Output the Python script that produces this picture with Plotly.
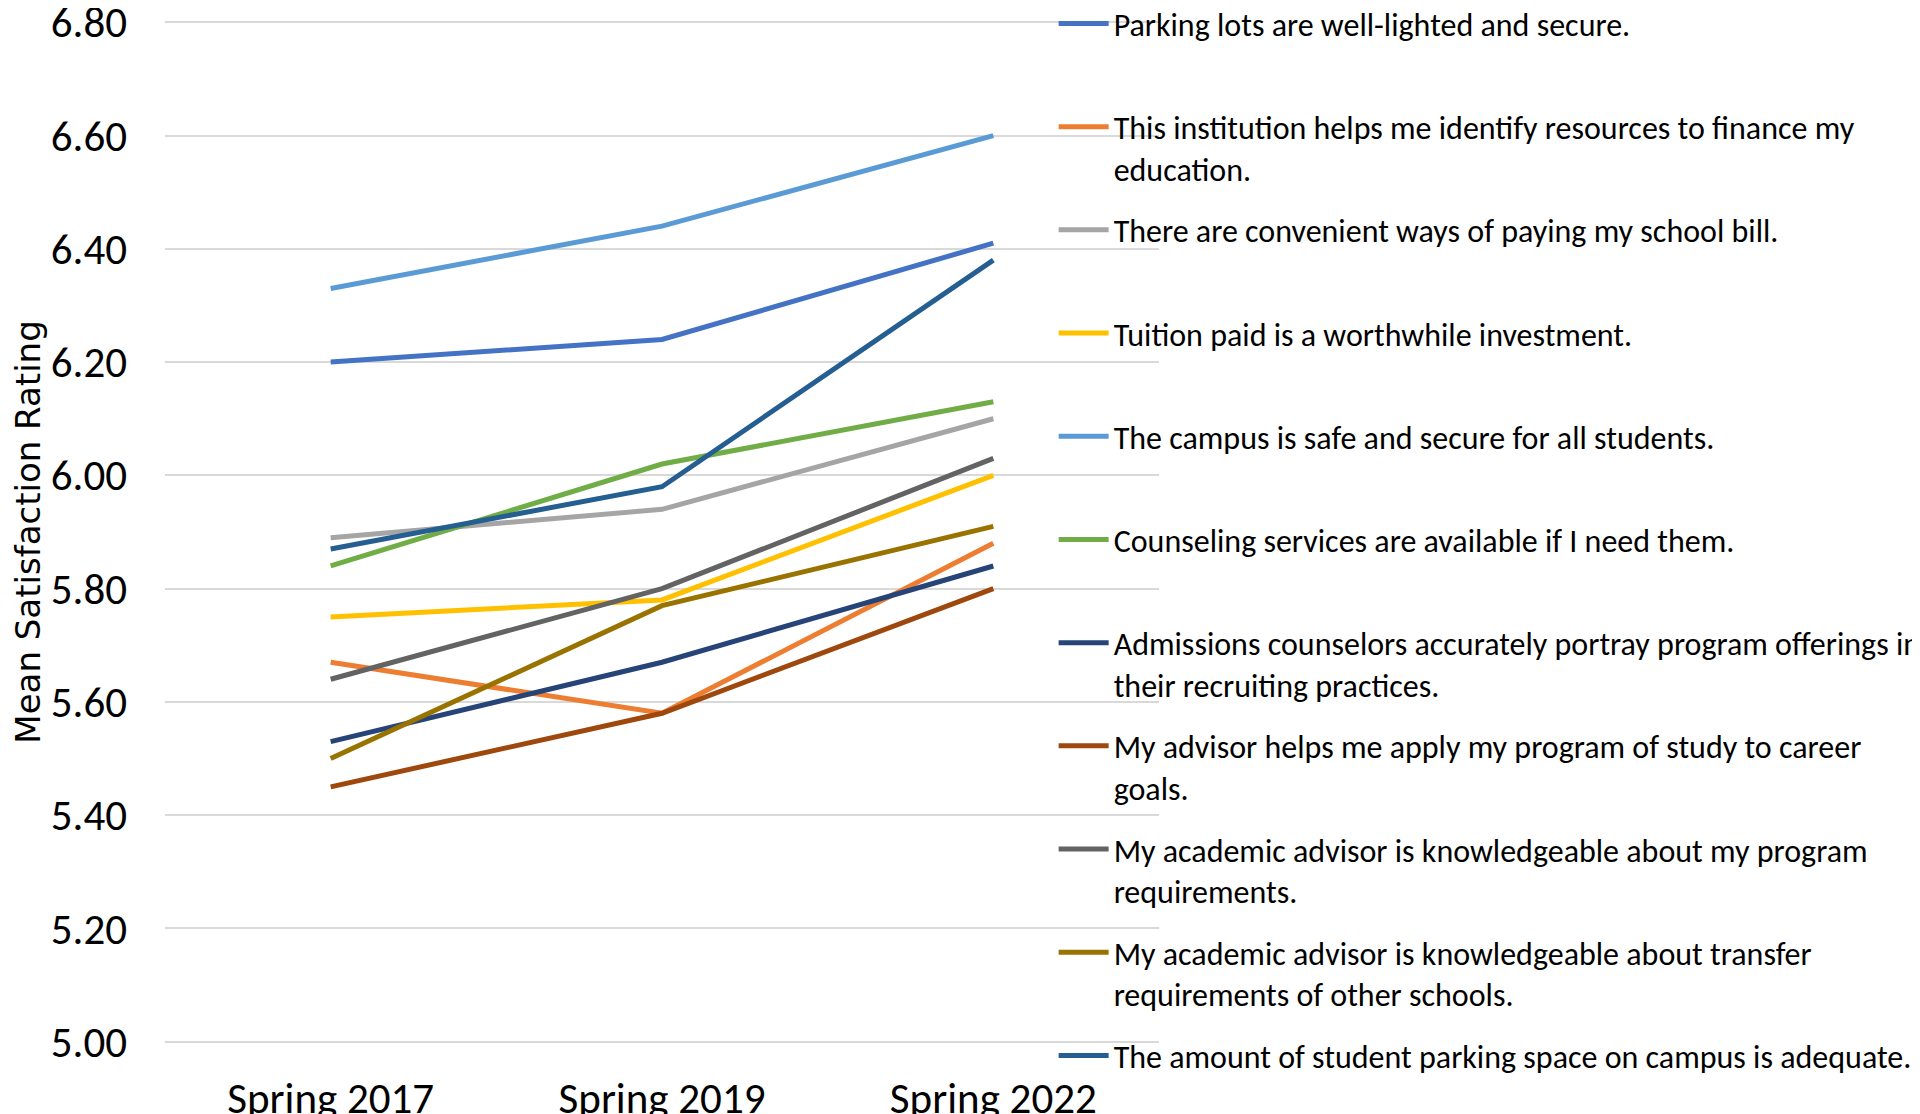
import plotly.graph_objects as go

periods = ["Spring 2017", "Spring 2019", "Spring 2022"]

parking_lots = [6.20, 6.24, 6.41]
finance_help = [5.67, 5.58, 5.88]
paying_bill = [5.89, 5.94, 6.10]
tuition_worth = [5.75, 5.78, 6.00]
campus_safe = [6.33, 6.44, 6.60]
counseling = [5.84, 6.02, 6.13]
admissions = [5.53, 5.67, 5.84]
advisor_career = [5.45, 5.58, 5.80]
advisor_program = [5.64, 5.80, 6.03]
advisor_transfer = [5.50, 5.77, 5.91]
parking_space = [5.87, 5.98, 6.38]

# legend text, wrapped the way the original legend wraps
labels = [
    "Parking lots are well-lighted and secure.",
    "This institution helps me identify resources to finance my<br>education.",
    "There are convenient ways of paying my school bill.",
    "Tuition paid is a worthwhile investment.",
    "The campus is safe and secure for all students.",
    "Counseling services are available if I need them.",
    "Admissions counselors accurately portray program offerings in<br>their recruiting practices.",
    "My advisor helps me apply my program of study to career<br>goals.",
    "My academic advisor is knowledgeable about my program<br>requirements.",
    "My academic advisor is knowledgeable about transfer<br>requirements of other schools.",
    "The amount of student parking space on campus is adequate.",
]

series = [parking_lots, finance_help, paying_bill, tuition_worth, campus_safe,
          counseling, admissions, advisor_career, advisor_program,
          advisor_transfer, parking_space]

colors = ["#4472C4", "#ED7D31", "#A5A5A5", "#FFC000", "#5B9BD5", "#70AD47",
          "#264478", "#9E480E", "#636363", "#997300", "#255E91"]

y_ticks = [5.0, 5.2, 5.4, 5.6, 5.8, 6.0, 6.2, 6.4, 6.6, 6.8]

font_main = "Carlito, 'Liberation Sans Narrow', 'Liberation Sans', sans-serif"

fig = go.Figure()
last = len(labels) - 1
for i, (name, vals) in enumerate(zip(labels, series)):
    # pad single-line entries so every legend slot has the same height
    if "<br>" not in name and i != last:
        name = name + "<br>\u00a0"
    fig.add_trace(go.Scatter(
        x=periods, y=vals, mode="lines", name=name,
        line=dict(color=colors[i], width=5),
        legendgroup=str(i),
    ))

fig.update_layout(
    width=1920, height=1114,
    margin=dict(l=157, r=769, t=11.7, b=77.7, autoexpand=False),
    paper_bgcolor="white", plot_bgcolor="white",
    font=dict(family=font_main, color="black"),
    showlegend=True,
    legend=dict(
        x=0.894, xanchor="left", y=1.0233, yanchor="top",
        font=dict(size=32, family=font_main, color="black"),
        bgcolor="rgba(0,0,0,0)",
        tracegroupgap=17, valign="top", itemwidth=50,
        maxheight=1114,
    ),
)
fig.update_xaxes(
    range=[-0.5, 2.5], showgrid=False, showline=False, zeroline=False,
    ticks="", tickfont=dict(size=43, family=font_main, color="black"),
    ticklabelstandoff=25,
)
fig.update_yaxes(
    range=[4.996, 6.804], tickvals=y_ticks, tickformat=".2f",
    showgrid=True, gridcolor="#D9D9D9", gridwidth=1.5,
    zeroline=False, showline=False, ticks="",
    tickfont=dict(size=43, family=font_main, color="black"),
    ticklabelstandoff=37, ticklabeloverflow="allow",
    title=dict(text="Mean Satisfaction Rating", standoff=19,
               font=dict(size=34, family="'DejaVu Sans', Verdana, sans-serif", color="black")),
    automargin=False,
)

fig.write_html("out.html")
